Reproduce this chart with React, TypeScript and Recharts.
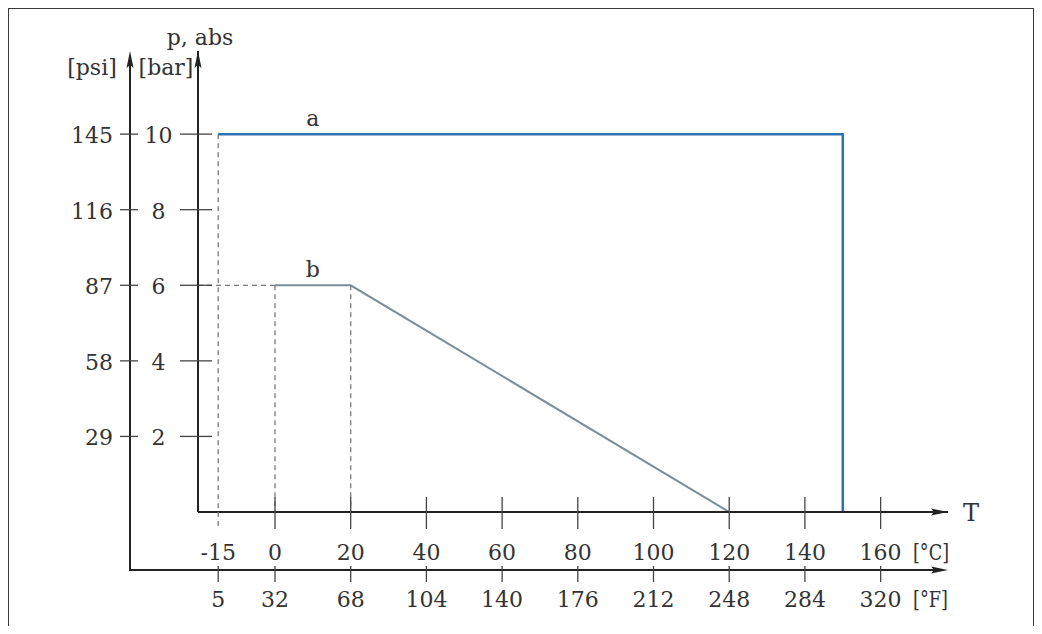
import React from 'react';
import { LineChart, Line, XAxis, YAxis, ReferenceLine, ReferenceDot } from 'recharts';

// ---- data ----
const C_TICKS = [-15, 0, 20, 40, 60, 80, 100, 120, 140, 160];
const F_LABELS = ['5', '32', '68', '104', '140', '176', '212', '248', '284', '320'];
const BAR_TICKS = [2, 4, 6, 8, 10];
const PSI_LABELS = ['29', '58', '87', '116', '145'];
const SERIES_A = [
  { t: -15, p: 10 },
  { t: 150, p: 10 },
  { t: 150, p: 0 },
];
const SERIES_B = [
  { t: 0, p: 6 },
  { t: 20, p: 6 },
  { t: 120, p: 0 },
];
const X_DOMAIN: [number, number] = [-20.34, 177.8];
const Y_DOMAIN: [number, number] = [0, 12.2];
const DASHED_V = [
  { t: -15, from: 10, to: 0 },
  { t: 0, from: 6, to: 0 },
  { t: 20, from: 6, to: 0 },
];
const DASHED_H = [{ p: 6, from: X_DOMAIN[0], to: 0 }];
const CURVE_LABELS = [
  { t: 10, p: 10, text: 'a' },
  { t: 10, p: 6, text: 'b' },
];

// ---- style ----
const FONT = '"DejaVu Serif", serif';
const FS = 22;
const TXT = '#333';
const AXIS = '#222';
const TICK = '#444';
const DASH = '#7a7a7a';
const BLUE = '#2f72b4';
const GRAY = '#7b8d97';

const W = 1026;
const H = 618;
const Y_AXIS_W = 120;
const MARGIN = { top: 43, left: 190 - Y_AXIS_W, right: 86, bottom: 4 };
const X_AXIS_H = H - MARGIN.top - MARGIN.bottom - 461;

const Arrow = ({ x, y, dir }: { x: number; y: number; dir: 'up' | 'right' }) => {
  const pts =
    dir === 'up'
      ? `${x},${y} ${x - 3.5},${y + 17} ${x},${y + 14} ${x + 3.5},${y + 17}`
      : `${x},${y} ${x - 17},${y - 3.5} ${x - 14},${y} ${x - 17},${y + 3.5}`;
  return <polygon points={pts} fill={AXIS} />;
};

const YTick = (props: any) => {
  const { x, y, payload } = props;
  const i = BAR_TICKS.indexOf(payload.value);
  return (
    <g>
      <line x1={x - 18} x2={x + 14} y1={y} y2={y} stroke={TICK} strokeWidth={1.3} />
      <line x1={x - 78} x2={x - 60} y1={y} y2={y} stroke={TICK} strokeWidth={1.3} />
      <text x={x - 39.5} y={y + 9} textAnchor="middle" fontFamily={FONT} fontSize={FS} fill={TXT}>
        {payload.value}
      </text>
      <text x={x - 85} y={y + 9} textAnchor="end" fontFamily={FONT} fontSize={FS} fill={TXT}>
        {PSI_LABELS[i]}
      </text>
    </g>
  );
};

const XTick = (props: any) => {
  const { x, y, payload } = props;
  const i = C_TICKS.indexOf(payload.value);
  const dashed = DASHED_V.some((d) => d.t === payload.value && d.from === 10);
  return (
    <g>
      {dashed ? (
        <line x1={x} x2={x} y1={y} y2={y + 18} stroke={DASH} strokeWidth={1.3} strokeDasharray="5 4" />
      ) : (
        <line x1={x} x2={x} y1={y - 15} y2={y + 17} stroke={TICK} strokeWidth={1.3} />
      )}
      <text x={x} y={y + 48} textAnchor="middle" fontFamily={FONT} fontSize={FS} fill={TXT}>
        {payload.value}
      </text>
      <line x1={x} x2={x} y1={y + 54} y2={y + 70} stroke={TICK} strokeWidth={1.3} />
      <text x={x} y={y + 95} textAnchor="middle" fontFamily={FONT} fontSize={FS} fill={TXT}>
        {F_LABELS[i]}
      </text>
    </g>
  );
};

const XDecor = (props: any) => {
  const vb = props.viewBox || {};
  const ax = vb.x;
  const ay = vb.y;
  const aw = vb.width;
  const end = ax + aw;
  return (
    <g>
      <Arrow x={end} y={ay} dir="right" />
      <text x={end + 15} y={ay + 9} fontFamily={FONT} fontSize={24} fill={TXT}>
        T
      </text>
      <text
        x={end - 35}
        y={ay + 48}
        fontFamily={FONT}
        fontSize={FS}
        fill={TXT}
        textLength={36}
        lengthAdjust="spacingAndGlyphs"
      >
        [°C]
      </text>
      <line x1={ax - 68} x2={end - 10} y1={ay + 58} y2={ay + 58} stroke={AXIS} strokeWidth={2} />
      <Arrow x={end} y={ay + 58} dir="right" />
      <text
        x={end - 35}
        y={ay + 95}
        fontFamily={FONT}
        fontSize={FS}
        fill={TXT}
        textLength={35}
        lengthAdjust="spacingAndGlyphs"
      >
        [°F]
      </text>
    </g>
  );
};

const YDecor = (props: any) => {
  const vb = props.viewBox || {};
  const x0 = vb.x + vb.width;
  const top = vb.y;
  const bottom = vb.y + vb.height;
  return (
    <g>
      <Arrow x={x0} y={top} dir="up" />
      <line x1={x0 - 68} x2={x0 - 68} y1={top + 10} y2={bottom + 59} stroke={AXIS} strokeWidth={2} />
      <Arrow x={x0 - 68} y={top} dir="up" />
      <text x={x0 + 2} y={top - 6} textAnchor="middle" fontFamily={FONT} fontSize={FS} fill={TXT}>
        p, abs
      </text>
      <text x={x0 - 106} y={top + 24} textAnchor="middle" fontFamily={FONT} fontSize={FS} fill={TXT}>
        [psi]
      </text>
      <text x={x0 - 32} y={top + 24} textAnchor="middle" fontFamily={FONT} fontSize={FS} fill={TXT}>
        [bar]
      </text>
    </g>
  );
};

const CurveLabel = (props: any) => {
  const vb = props.viewBox || {};
  const cx = vb.x + (vb.width || 0) / 2;
  const cy = vb.y + (vb.height || 0) / 2;
  return (
    <text x={cx} y={cy - 8} textAnchor="middle" fontFamily={FONT} fontSize={FS} fill={TXT}>
      {props.value}
    </text>
  );
};

export default function App() {
  return (
    <div style={{ position: 'relative', width: W, height: H, fontFamily: FONT }}>
      <div
        style={{
          position: 'absolute',
          left: -1,
          top: -1,
          width: W + 2,
          height: H + 20,
          boxSizing: 'border-box',
          borderTop: '2px solid #3a3a3a',
          borderLeft: '2px solid #3a3a3a',
          borderRight: '2px solid #3a3a3a',
          pointerEvents: 'none',
        }}
      />
      <div style={{ position: 'absolute', left: 0, top: 0 }}>
        <LineChart width={W} height={H} margin={MARGIN}>
          <XAxis
            type="number"
            dataKey="t"
            domain={X_DOMAIN}
            allowDataOverflow
            ticks={C_TICKS}
            interval={0}
            height={X_AXIS_H}
            tickSize={0}
            tickMargin={0}
            tickLine={false}
            axisLine={{ stroke: AXIS, strokeWidth: 2 }}
            tick={<XTick />}
            label={<XDecor />}
          />
          <YAxis
            type="number"
            dataKey="p"
            domain={Y_DOMAIN}
            allowDataOverflow
            ticks={BAR_TICKS}
            interval={0}
            width={Y_AXIS_W}
            tickSize={0}
            tickMargin={0}
            tickLine={false}
            axisLine={{ stroke: AXIS, strokeWidth: 2 }}
            tick={<YTick />}
            label={<YDecor />}
          />
          {DASHED_V.map((d, k) => (
            <ReferenceLine
              key={'v' + k}
              segment={[
                { x: d.t, y: d.from },
                { x: d.t, y: d.to },
              ]}
              stroke={DASH}
              strokeWidth={1.3}
              strokeDasharray="5 4"
            />
          ))}
          {DASHED_H.map((d, k) => (
            <ReferenceLine
              key={'h' + k}
              segment={[
                { x: d.from, y: d.p },
                { x: d.to, y: d.p },
              ]}
              stroke={DASH}
              strokeWidth={1.3}
              strokeDasharray="5 4"
            />
          ))}
          <Line
            data={SERIES_B}
            dataKey="p"
            type="linear"
            stroke={GRAY}
            strokeWidth={2}
            dot={false}
            activeDot={false}
            isAnimationActive={false}
          />
          <Line
            data={SERIES_A}
            dataKey="p"
            type="linear"
            stroke={BLUE}
            strokeWidth={2.5}
            dot={false}
            activeDot={false}
            isAnimationActive={false}
          />
          {CURVE_LABELS.map((l, k) => (
            <ReferenceDot
              key={'l' + k}
              x={l.t}
              y={l.p}
              r={0}
              fill="none"
              stroke="none"
              label={<CurveLabel value={l.text} />}
            />
          ))}
        </LineChart>
      </div>
    </div>
  );
}
